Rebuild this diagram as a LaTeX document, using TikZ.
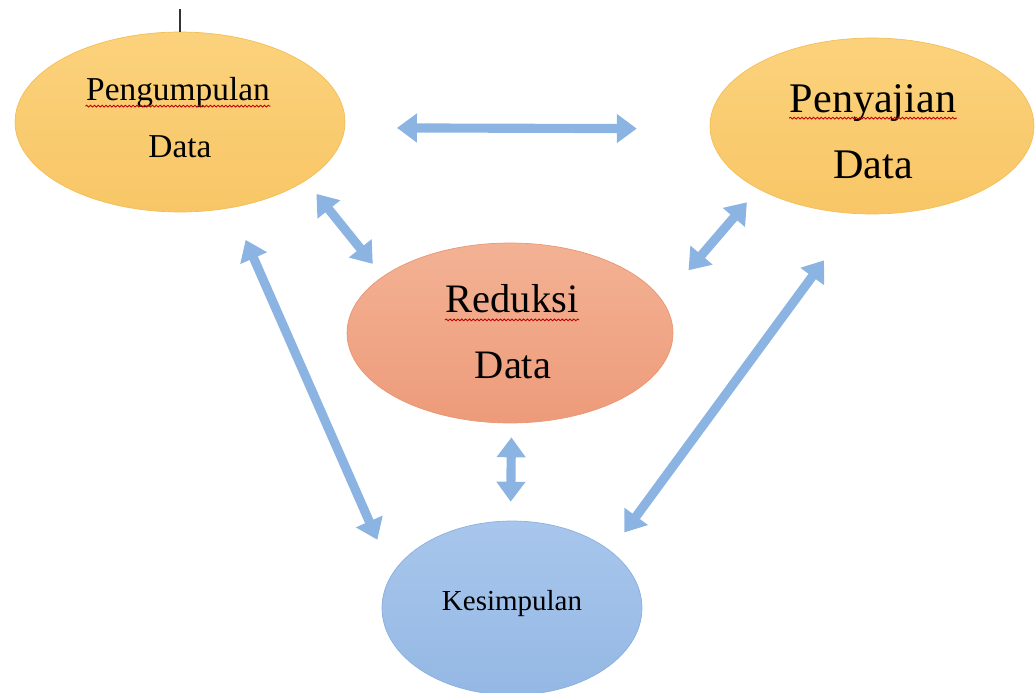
\documentclass[tikz,border=0pt]{standalone}
\usepackage{fontspec}
\setmainfont{Liberation Serif}
\usepackage{tikz}
\usetikzlibrary{arrows.meta,shapes,decorations.pathmorphing}
\usepackage{xcolor}
\definecolor{goldtop}{RGB}{251,210,124}
\definecolor{goldbot}{RGB}{248,198,102}
\definecolor{goldline}{RGB}{244,190,86}
\definecolor{salmontop}{RGB}{243,178,148}
\definecolor{salmonbot}{RGB}{237,155,122}
\definecolor{salmonline}{RGB}{234,150,115}
\definecolor{skytop}{RGB}{168,198,236}
\definecolor{skybot}{RGB}{148,184,228}
\definecolor{skyline}{RGB}{140,176,222}
\definecolor{linkblue}{RGB}{140,180,226}

\begin{document}
\begin{tikzpicture}[x=0.02cm,y=-0.02cm,thick]
      \tikzstyle{gold}=[ellipse,draw=goldline,thin,top color=goldtop,bottom color=goldbot,inner sep=0pt]
      \tikzstyle{salmon}=[ellipse,draw=salmonline,thin,top color=salmontop,bottom color=salmonbot,inner sep=0pt]
      \tikzstyle{sky}=[ellipse,draw=skyline,thin,top color=skytop,bottom color=skybot,inner sep=0pt]
      \tikzstyle{word}=[inner sep=0pt,anchor=base]
      \tikzstyle{link}=[{Triangle[length=0.4cm,width=0.56cm]}-{Triangle[length=0.4cm,width=0.56cm]},draw=linkblue,line width=5.2pt]
      \tikzstyle{spell}=[red!75!black,line width=0.5pt,decorate,decoration={snake,amplitude=0.5pt,segment length=2.2pt}]
      \useasboundingbox (0,0) rectangle (1035,693);
      % ellipses
      \node[gold,minimum width=6.6cm,minimum height=3.6cm](pg) at (180,122){};
      \node[gold,minimum width=6.48cm,minimum height=3.52cm](pj) at (872,126){};
      \node[salmon,minimum width=6.52cm,minimum height=3.6cm](rd) at (510,333){};
      \node[sky,minimum width=5.2cm,minimum height=3.48cm](ks) at (512,608){};
      % texts
      \node[word,font=\fontsize{19}{19}\selectfont](pg-top) at (178,100){Pengumpulan};
      \node[word,font=\fontsize{19}{19}\selectfont](pg-bot) at (180,157){Data};
      \node[word,font=\fontsize{24}{24}\selectfont](pj-top) at (873,112){Penyajian};
      \node[word,font=\fontsize{24}{24}\selectfont](pj-bot) at (873,178){Data};
      \node[word,font=\fontsize{23}{23}\selectfont](rd-top) at (512,312){Reduksi};
      \node[word,font=\fontsize{23}{23}\selectfont](rd-bot) at (513,378){Data};
      \node[word,font=\fontsize{16.5}{16.5}\selectfont](ks-txt) at (512,610){Kesimpulan};
      \draw[spell]([yshift=-3.5pt]pg-top.base west)--([yshift=-3.5pt]pg-top.base east);
      \draw[spell]([yshift=-3.5pt]pj-top.base west)--([yshift=-3.5pt]pj-top.base east);
      \draw[spell]([yshift=-4.5pt]rd-top.base west)--([yshift=-4.5pt]rd-top.base east);
      % tick above
      \coordinate(tick) at (180,9);
      \draw[line width=0.8pt,black!80](tick)--(pg.north);
      % arrows
      \draw[link,shorten <=1.04cm,shorten >=1.46cm](pg.-2)--(pj.181);
      \draw[link,shorten <=0.34cm,shorten >=0.32cm](pg.-25.4)--(rd.156.4);
      \draw[link,shorten <=0.35cm,shorten >=0.8cm](pj.209)--(rd.12.3);
      \draw[link,shorten <=1.15cm,shorten >=0.46cm](pj.261.8)--(ks.30.6);
      \draw[link,shorten <=0.7cm,shorten >=0.74cm](pg.-59.4)--(ks.164);
      \draw[link,shorten <=0.28cm,shorten >=0.38cm](rd.-89)--(ks.91);
    \end{tikzpicture}
\end{document}
